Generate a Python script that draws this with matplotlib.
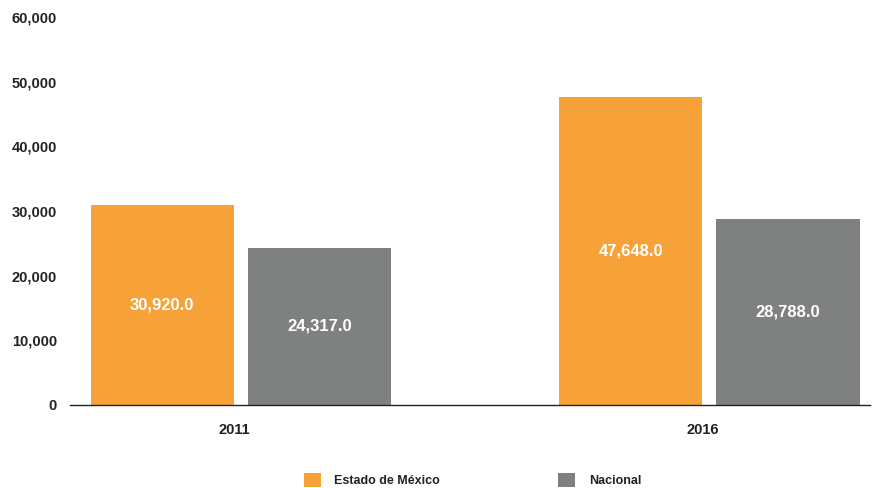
import numpy as np
import matplotlib.pyplot as plt

years = ['2011', '2016']
estado = [30920.0, 47648.0]
nacional = [24317.0, 28788.0]
series_names = ['Estado de México', 'Nacional']
y_ticks = [0, 10000, 20000, 30000, 40000, 50000, 60000]

plt.rcParams['font.family'] = ['Liberation Sans', 'DejaVu Sans']
plt.rcParams['font.weight'] = 'bold'

orange = '#F7A239'
gray = '#7F8180'

fig = plt.figure(figsize=(8.73, 4.88), dpi=100)
ax = fig.add_axes([70 / 873, 1 - 405 / 488, 800 / 873, (405 - 17) / 488])

x = np.arange(len(years))
w = 0.306
off = 0.168
b1 = ax.bar(x - off, estado, w, color=orange, label=series_names[0])
b2 = ax.bar(x + off, nacional, w, color=gray, label=series_names[1])

# value labels in the middle of each bar
for bars, vals in [(b1, estado), (b2, nacional)]:
    for r, v in zip(bars, vals):
        ax.text(r.get_x() + r.get_width() / 2, v / 2, f'{v:,.1f}',
                ha='center', va='center', color='white', fontsize=12, fontweight='bold')

ax.set_xlim(-0.365, 1.343)
ax.set_ylim(0, 60000)
ax.set_yticks(y_ticks)
ax.set_yticklabels([f'{t:,}' for t in y_ticks])
ax.set_xticks(x - 0.015)
ax.set_xticklabels(years)
ax.tick_params(axis='y', length=0, pad=9.5, labelsize=10.5, colors='#222222')
ax.tick_params(axis='x', length=0, pad=13, labelsize=10.5, colors='#222222')
for s in ['top', 'right', 'left']:
    ax.spines[s].set_visible(False)
ax.spines['bottom'].set_color('#222222')
ax.spines['bottom'].set_linewidth(1.0)
ax.set_zorder(1)

leg = fig.legend(loc='center', bbox_to_anchor=(472.5 / 873, 1 - 480 / 488), ncol=2, frameon=False,
                 handlelength=1.36, handleheight=1.36, handletextpad=1.1,
                 columnspacing=9.45, fontsize=9)
for t in leg.get_texts():
    t.set_color('#222222')

fig.savefig('out.png', dpi=100)
